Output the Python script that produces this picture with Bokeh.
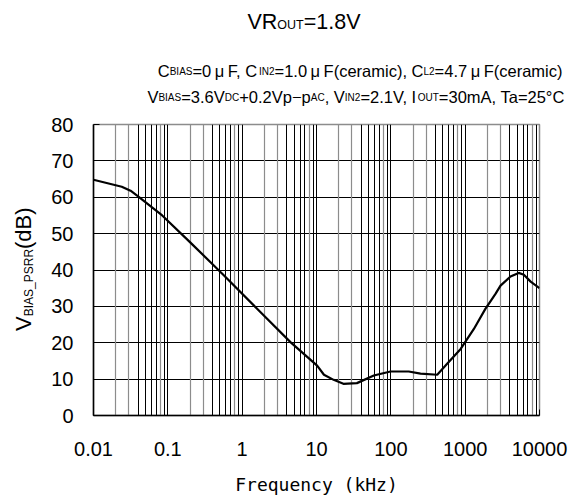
import math
from bokeh.plotting import figure
from bokeh.models import FixedTicker, Grid, ColumnDataSource, Div
from bokeh.layouts import column, row
from bokeh.embed import file_html
from bokeh.resources import INLINE
from bokeh.core.properties import value, field

# ---------------- data ----------------
freq_khz = [0.01, 0.024, 0.0315, 0.039, 0.084, 0.2, 0.57, 1.6, 4.5, 10.2, 12.6, 17,
            23, 35, 59, 99, 174, 251, 421, 572, 870, 1310, 1870, 2570, 2990, 4070,
            5250, 6160, 7600, 10000]
psrr_db = [64.8, 62.9, 61.8, 60.4, 55.0, 47.6, 38.5, 29.3, 20.1, 13.7, 11.2, 9.8,
           8.7, 8.9, 11.0, 12.1, 12.1, 11.5, 11.2, 14.2, 18.3, 23.8, 29.3, 33.5, 35.7, 38.2,
           39.2, 38.7, 36.8, 35.0]

x_ticks = [0.01, 0.1, 1, 10, 100, 1000, 10000]
x_tick_labels = ["0.01", "0.1", "1", "10", "100", "1000", "10000"]
y_ticks = [0, 10, 20, 30, 40, 50, 60, 70, 80]

title_parts = [("VR", "n"), ("OUT", "s"), ("=1.8V", "n")]
cond1_parts = [("C", "n"), ("BIAS", "s"), ("=0", "n"), ("μ", "mu"), ("F, C", "n"),
               ("IN2", "s"), ("=1.0", "n"), ("μ", "mu"), ("F(ceramic), C", "n"),
               ("L2", "s"), ("=4.7", "n"), ("μ", "mu"), ("F(ceramic)", "n")]
cond2_parts = [("V", "n"), ("BIAS", "s"), ("=3.6V", "n"), ("DC", "s"), ("+0.2Vp−p", "n"),
               ("AC", "s"), (", V", "n"), ("IN2", "s"), ("=2.1V, I", "n"), ("OUT", "s"),
               ("=30mA, Ta=25°C", "n")]
ylabel_main = "V"
ylabel_sub = "BIAS_PSRR"
ylabel_unit = "(dB)"
xlabel_text = "Frequency (kHz)"

# ---------------- text layout helpers (Arial / Liberation Sans advance widths) ----
ARIAL = {' ': 278, ',': 278, '.': 278, '=': 584, '+': 584, '−': 584, '-': 333, '(': 333,
         ')': 333, '°': 400, 'μ': 576, '_': 556,
         'A': 667, 'B': 667, 'C': 722, 'D': 722, 'F': 611, 'I': 278, 'L': 556, 'N': 722,
         'O': 778, 'P': 667, 'R': 722, 'S': 667, 'T': 611, 'U': 722, 'V': 667, 'H': 722,
         'a': 556, 'c': 500, 'e': 556, 'i': 222, 'k': 500, 'm': 833, 'p': 556, 'r': 333,
         'z': 500, 'd': 556}
for ch in "0123456789":
    ARIAL[ch] = 556


def text_w(s, size):
    return sum(ARIAL.get(ch, 556) for ch in s) * size / 1000.0


def run_width(parts, F, S):
    w = 0.0
    for t, kind in parts:
        if kind == "mu":
            w += F
        else:
            w += text_w(t, F if kind == "n" else S)
    return w


def layout(parts, x0, y0, F, S, sub_dy):
    norm = dict(x=[], y=[], text=[], size=[])
    mu = dict(x=[], y=[], text=[], size=[])
    pos = 0.0
    for t, kind in parts:
        if kind == "mu":
            mu["x"].append(x0 + pos + F / 2); mu["y"].append(y0)
            mu["text"].append(t); mu["size"].append(f"{F}px")
            pos += F
            continue
        size = F if kind == "n" else S
        dy = 0 if kind == "n" else sub_dy
        norm["x"].append(x0 + pos); norm["y"].append(y0 + dy)
        norm["text"].append(t); norm["size"].append(f"{size}px")
        pos += text_w(t, size)
    return norm, mu


def blank_fig(w, h):
    f = figure(width=w, height=h, x_range=(0, w), y_range=(0, h), output_backend="svg",
               toolbar_location=None, x_axis_location=None, y_axis_location=None,
               min_border=0, outline_line_color=None, title=None)
    f.xgrid.visible = False
    f.ygrid.visible = False
    f.background_fill_color = "white"
    f.border_fill_color = "white"
    return f


FONT = value("Liberation Sans")
BASE_FIX = 6.5   # rendered alphabetic baseline sits this much lower than requested

# ---------------- top text area (page y 0..110) ----------------
TOP_W, TOP_H = 572, 110
top = blank_fig(TOP_W, TOP_H)

lines = [
    (title_parts, 247.0, 28.3, 21.5, 12.5, -2.5, None),
    (cond1_parts, None, 76.7, 16.5, 10.0, -1.0, 562.0),
    (cond2_parts, None, 102.7, 16.5, 10.0, -1.0, 566.0),
]
for parts, x0, base_y, F, S, sdy, right in lines:
    if x0 is None:
        x0 = right - run_width(parts, F, S)
    y0 = TOP_H - base_y + BASE_FIX
    norm, mu = layout(parts, x0, y0, F, S, sdy)
    top.text(x="x", y="y", text="text", source=ColumnDataSource(norm), text_font=FONT,
             text_font_size=field("size"), text_align="left", text_baseline="alphabetic",
             text_color="black")
    if mu["x"]:
        top.text(x="x", y="y", text="text", source=ColumnDataSource(mu), text_font=FONT,
                 text_font_size=field("size"), text_align="center", text_baseline="alphabetic",
                 text_color="black")

# ---------------- left y-label area (page x 0..40, y 110..498) ----------------
LEFT_W, MAIN_H = 40, 388
ylab_html = (
    '<div style="position:absolute; left:13px; top:221px; transform:rotate(-90deg); '
    'transform-origin:left top; white-space:nowrap; font-family:\'Liberation Sans\'; '
    'font-size:22px; line-height:1; color:black;">'
    f'{ylabel_main}<span style="font-size:12px; position:relative; top:1.5px;">{ylabel_sub}</span>'
    f'{ylabel_unit}</div>'
)
left = Div(text=ylab_html, width=LEFT_W, height=MAIN_H, margin=(0, 0, 0, 0),
           styles={"position": "relative", "overflow": "visible", "background": "white"})

# ---------------- main chart (page x 40..572, y 110..498) ----------------
p = figure(width=532, height=MAIN_H, x_axis_type="log", x_range=(0.01, 10000), y_range=(0, 80),
           output_backend="svg", toolbar_location=None, title=None,
           min_border_left=53, min_border_right=33, min_border_top=14, min_border_bottom=83)
p.background_fill_color = "white"
p.border_fill_color = "white"
p.outline_line_color = "#8c8c8c"
p.outline_line_width = 1.5

decades = [0.01, 0.1, 1, 10, 100, 1000]
gray_minor = [d * m for d in decades for m in (2, 3, 8)]
black_minor = [d * m for d in decades for m in (4, 5, 6, 7, 9)]

p.xgrid.ticker = FixedTicker(ticks=x_ticks + black_minor)
p.xgrid.grid_line_color = "black"
p.xgrid.grid_line_width = 1
p.add_layout(Grid(dimension=0, ticker=FixedTicker(ticks=gray_minor),
                  grid_line_color="#8c8c8c", grid_line_width=1.2))
p.ygrid.ticker = FixedTicker(ticks=y_ticks)
p.ygrid.grid_line_color = "black"
p.ygrid.grid_line_width = 1

p.line(freq_khz, psrr_db, line_color="black", line_width=2.2)

p.xaxis.ticker = FixedTicker(ticks=x_ticks)
p.xaxis.major_label_overrides = {t: l for t, l in zip(x_ticks, x_tick_labels)}
p.yaxis.ticker = FixedTicker(ticks=y_ticks)

for ax in (p.xaxis, p.yaxis):
    ax.axis_line_color = "black"
    ax.axis_line_width = 1.5
    ax.major_tick_in = 6
    ax.major_tick_out = 0
    ax.major_tick_line_color = "black"
    ax.minor_tick_line_color = None
    ax.major_label_text_font = "Liberation Sans"
    ax.major_label_text_font_size = "20px"
    ax.major_label_text_color = "black"

p.xaxis.major_label_standoff = 26
p.yaxis.major_label_standoff = 20

p.xaxis.axis_label = xlabel_text
p.xaxis.axis_label_text_font = "DejaVu Sans Mono"
p.xaxis.axis_label_text_font_size = "18px"
p.xaxis.axis_label_text_font_style = "normal"
p.xaxis.axis_label_text_color = "black"
p.xaxis.axis_label_standoff = 15

layout_all = column(top, row(left, p, spacing=0), spacing=0)

open("out.html", "w").write(file_html(layout_all, INLINE))
